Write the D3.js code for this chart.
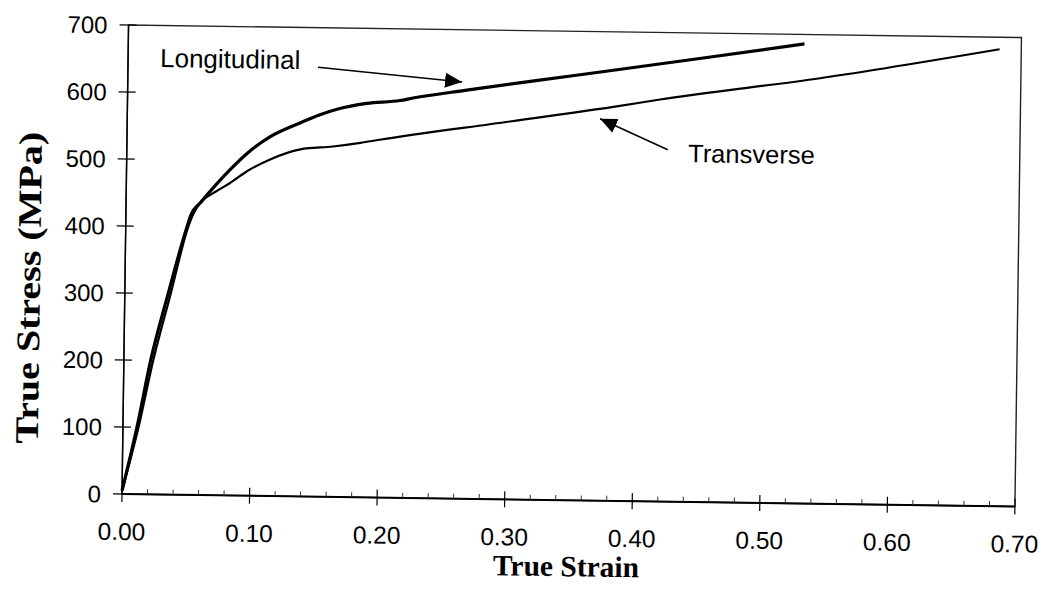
<!DOCTYPE html>
<html>
<head>
<meta charset="utf-8">
<script src="https://cdn.jsdelivr.net/npm/d3@7"></script>
<style>
  html, body { margin: 0; padding: 0; background: #fff; }
  svg { display: block; }
</style>
</head>
<body>
<svg id="chart" width="1045" height="589"></svg>
<script>
// True stress vs. true strain, longitudinal and transverse specimens
const longStrain = [0, 0.011, 0.021, 0.034, 0.048, 0.051, 0.059, 0.070, 0.081, 0.095, 0.112, 0.135, 0.151, 0.165, 0.1875, 0.2136, 0.2238, 0.2658, 0.35, 0.448, 0.53];
const longStress = [5, 100, 200, 300, 400, 418, 438, 463, 486, 512, 536, 557, 570, 579, 588, 593, 597, 610, 634, 662, 686];

const transStrain = [0, 0.012, 0.023, 0.036, 0.049, 0.053, 0.059, 0.070, 0.081, 0.095, 0.112, 0.136, 0.1616, 0.183, 0.198, 0.30, 0.386, 0.4174, 0.5426, 0.683];
const transStress = [5, 98, 200, 300, 400, 420, 438, 453, 466, 485, 502, 518, 523, 529, 534, 564, 589.5, 600, 635, 682];

const xTicks = [0, 0.1, 0.2, 0.3, 0.4, 0.5, 0.6, 0.7];
const yTicks = [0, 100, 200, 300, 400, 500, 600, 700];

// annotation anchors in data units: [strain, stress]
const longLabel = [0.0251, 638];
const longArrow = [[0.149, 641], [0.262, 622]];
const transLabel = [0.44, 507];
const transArrow = [[0.424, 525], [0.3706, 570]];

const svg = d3.select("#chart");
const plotLeft = 122, plotRight = 1015, plotTop = 25, plotBottom = 494;

const x = d3.scaleLinear().domain([0, 0.7]).range([plotLeft, plotRight]);
const y = d3.scaleLinear().domain([0, 700]).range([plotBottom, plotTop]);

const sans = "'Liberation Sans', Arial, Helvetica, sans-serif";
const serif = "'Liberation Serif', 'Times New Roman', serif";

const defs = svg.append("defs");
defs.append("marker")
  .attr("id", "head")
  .attr("markerUnits", "userSpaceOnUse")
  .attr("viewBox", "0 -8 18 16")
  .attr("refX", 17).attr("refY", 0)
  .attr("markerWidth", 18).attr("markerHeight", 16)
  .attr("orient", "auto")
  .append("path").attr("d", "M0,-7.5L17,0L0,7.5Z").attr("fill", "#000");

// the whole page sits slightly tilted
const g = svg.append("g").attr("transform", `rotate(0.8, ${plotLeft}, ${plotBottom})`);

// frame
g.append("rect")
  .attr("x", plotLeft).attr("y", plotTop)
  .attr("width", plotRight - plotLeft).attr("height", plotBottom - plotTop)
  .attr("fill", "none").attr("stroke", "#222").attr("stroke-width", 1.4);

// bottom axis
const xAxis = g.append("g");
xAxis.append("line")
  .attr("x1", plotLeft).attr("x2", plotRight).attr("y1", plotBottom).attr("y2", plotBottom)
  .attr("stroke", "#000").attr("stroke-width", 2);
const minor = d3.range(0, 71, 2).map(d => d / 100).filter(d => Math.round(d * 100) % 10 !== 0);
xAxis.selectAll("line.minor").data(minor).join("line")
  .attr("class", "minor")
  .attr("x1", d => x(d)).attr("x2", d => x(d))
  .attr("y1", plotBottom).attr("y2", plotBottom - 5)
  .attr("stroke", "#333").attr("stroke-width", 1);
xAxis.selectAll("line.major").data(xTicks).join("line")
  .attr("class", "major")
  .attr("x1", d => x(d)).attr("x2", d => x(d))
  .attr("y1", plotBottom - 8).attr("y2", plotBottom + 8)
  .attr("stroke", "#000").attr("stroke-width", 1.2);
xAxis.selectAll("text").data(xTicks).join("text")
  .attr("x", d => x(d)).attr("y", plotBottom + 46)
  .attr("text-anchor", "middle")
  .attr("font-family", sans).attr("font-size", 24.5)
  .text(d => d3.format(".2f")(d));

// left axis
const yAxis = g.append("g");
yAxis.append("line")
  .attr("x1", plotLeft).attr("x2", plotLeft).attr("y1", plotTop).attr("y2", plotBottom)
  .attr("stroke", "#000").attr("stroke-width", 1.4);
yAxis.selectAll("line.major").data(yTicks).join("line")
  .attr("class", "major")
  .attr("x1", plotLeft - 9).attr("x2", plotLeft + 8)
  .attr("y1", d => y(d)).attr("y2", d => y(d))
  .attr("stroke", "#000").attr("stroke-width", 1.2);
yAxis.selectAll("text").data(yTicks).join("text")
  .attr("x", plotLeft - 21).attr("y", d => y(d))
  .attr("dy", "0.36em")
  .attr("text-anchor", "end")
  .attr("font-family", sans).attr("font-size", 24)
  .text(d => d);

// axis titles
g.append("text")
  .attr("x", 567).attr("y", 570)
  .attr("text-anchor", "middle")
  .attr("font-family", serif).attr("font-weight", "bold").attr("font-size", 29.5)
  .text("True Strain");
g.append("text")
  .attr("transform", "translate(37, 289) rotate(-90)")
  .attr("text-anchor", "middle")
  .attr("font-family", serif).attr("font-weight", "bold").attr("font-size", 33)
  .attr("textLength", 312).attr("lengthAdjust", "spacingAndGlyphs")
  .text("True Stress (MPa)");

// curves
const line = d3.line()
  .x(d => x(d[0])).y(d => y(d[1]))
  .curve(d3.curveMonotoneX);

g.append("path")
  .datum(transStrain.map((s, i) => [s, transStress[i]]))
  .attr("d", line)
  .attr("fill", "none").attr("stroke", "#000").attr("stroke-width", 2.2)
  .attr("stroke-linejoin", "round");

g.append("path")
  .datum(longStrain.map((s, i) => [s, longStress[i]]))
  .attr("d", line)
  .attr("fill", "none").attr("stroke", "#000").attr("stroke-width", 3.2)
  .attr("stroke-linejoin", "round");

// annotations
g.append("text")
  .attr("x", x(longLabel[0])).attr("y", y(longLabel[1]))
  .attr("font-family", sans).attr("font-size", 26)
  .text("Longitudinal");
g.append("line")
  .attr("x1", x(longArrow[0][0])).attr("y1", y(longArrow[0][1]))
  .attr("x2", x(longArrow[1][0])).attr("y2", y(longArrow[1][1]))
  .attr("stroke", "#000").attr("stroke-width", 1.6)
  .attr("marker-end", "url(#head)");

g.append("text")
  .attr("x", x(transLabel[0])).attr("y", y(transLabel[1]))
  .attr("font-family", sans).attr("font-size", 25.5)
  .text("Transverse");
g.append("line")
  .attr("x1", x(transArrow[0][0])).attr("y1", y(transArrow[0][1]))
  .attr("x2", x(transArrow[1][0])).attr("y2", y(transArrow[1][1]))
  .attr("stroke", "#000").attr("stroke-width", 1.6)
  .attr("marker-end", "url(#head)");
</script>
</body>
</html>
